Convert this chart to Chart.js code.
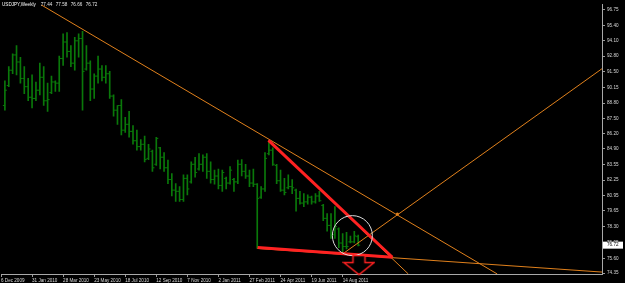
<!DOCTYPE html>
<html>
<head>
<meta charset="utf-8">
<title>USDJPY Weekly</title>
<style>
  html, body { margin: 0; padding: 0; background: #000; }
  #chart { display: block; }
</style>
<script src="https://cdn.jsdelivr.net/npm/chart.js@4.4.1/dist/chart.umd.min.js"></script>
</head>
<body>
<canvas id="chart" width="625" height="283"></canvas>
<script>
// weekly OHLC, first entry is the week of 13 Dec 2009 (week 1 on the time axis)
var firstWeek = 1;
var opens = [88.6, 90.3, 91.6, 92.9, 92.3, 90.9, 90.2, 89.3, 89.2, 89.9,
  91.0, 89.0, 89.7, 90.6, 90.5, 92.6, 94.0, 93.2, 92.2, 94.1,
  94.3, 91.7, 92.2, 90.0, 91.1, 91.7, 91.0, 91.3, 89.4, 88.2,
  88.6, 86.5, 87.0, 86.4, 85.6, 85.1, 85.3, 84.1, 84.7, 83.6,
  85.0, 84.2, 83.3, 82.3, 81.4, 81.3, 80.6, 82.4, 82.1, 83.6,
  83.2, 83.6, 84.2, 83.0, 82.3, 82.6, 81.8, 82.4, 82.0, 82.3,
  82.1, 83.6, 83.0, 82.6, 82.0, 81.9, 80.8, 81.5, 84.5, 84.8,
  83.5, 82.2, 81.4, 81.6, 81.7, 81.4, 80.7, 80.3, 80.4, 80.8,
  80.4, 80.9, 80.1, 79.0, 78.4, 77.6, 78.1, 76.9, 76.6, 77.0,
  77.0, 77.44];
var highs = [90.7, 91.9, 93.0, 93.7, 92.7, 91.9, 90.9, 91.2, 90.6, 92.2,
  91.9, 90.5, 91.1, 90.7, 92.8, 94.7, 94.8, 93.7, 94.4, 94.7,
  94.9, 93.7, 92.4, 91.3, 92.8, 92.0, 92.0, 91.5, 89.5, 88.6,
  89.1, 87.6, 88.1, 86.9, 86.5, 85.7, 86.0, 85.3, 84.8, 85.9,
  85.05, 84.6, 83.96, 82.8, 81.96, 81.7, 82.7, 82.7, 83.8, 84.2,
  84.5, 84.4, 84.5, 83.8, 83.1, 83.2, 83.1, 82.5, 83.4, 82.4,
  83.96, 84.0, 83.6, 83.1, 83.2, 81.96, 81.7, 84.6, 85.5, 85.0,
  83.6, 83.1, 82.4, 82.7, 82.3, 81.5, 81.3, 81.1, 81.0, 80.9,
  81.1, 81.3, 80.2, 79.4, 79.4, 80.0, 78.2, 77.7, 77.8, 77.5,
  77.9, 77.58];
var lows = [88.2, 90.2, 91.3, 91.2, 90.5, 89.6, 89.0, 88.4, 89.0, 89.5,
  88.6, 88.1, 89.6, 89.8, 89.8, 92.0, 92.7, 91.9, 91.6, 92.7,
  88.2, 91.6, 89.0, 89.2, 90.5, 90.7, 90.5, 89.2, 87.7, 87.0,
  86.1, 86.3, 85.9, 85.3, 84.8, 84.8, 83.8, 84.0, 83.0, 83.5,
  83.2, 83.0, 81.96, 80.9, 80.45, 80.45, 80.45, 81.0, 82.0, 82.5,
  83.1, 83.0, 82.4, 82.0, 81.9, 81.5, 81.3, 81.5, 81.9, 81.3,
  81.96, 82.6, 82.4, 81.7, 81.7, 76.44, 80.7, 81.3, 84.4, 83.5,
  81.96, 81.3, 81.0, 81.5, 81.1, 79.6, 80.2, 80.0, 80.2, 80.2,
  80.3, 80.45, 78.8, 77.9, 77.3, 77.3, 76.5, 76.1, 76.4, 76.9,
  76.9, 76.66];
var closes = [89.9, 91.6, 92.9, 92.3, 90.9, 90.2, 89.3, 89.2, 89.9, 91.0,
  89.0, 89.1, 90.6, 90.5, 92.6, 94.0, 93.2, 92.2, 94.1, 94.3,
  91.5, 92.2, 90.0, 91.1, 91.7, 91.0, 91.3, 89.4, 88.2, 88.6,
  86.5, 87.0, 86.4, 85.6, 85.1, 85.3, 84.0, 84.9, 83.3, 85.8,
  84.2, 83.3, 82.3, 81.4, 81.3, 80.6, 82.4, 81.5, 83.6, 82.9,
  83.6, 84.2, 83.0, 82.3, 82.6, 81.8, 82.9, 82.0, 83.1, 82.1,
  83.6, 83.0, 82.6, 82.0, 81.9, 80.7, 81.5, 84.1, 84.8, 83.6,
  82.2, 81.4, 81.2, 81.7, 81.6, 80.7, 80.3, 80.4, 80.8, 80.4,
  80.9, 80.5, 79.0, 78.4, 77.6, 78.3, 76.9, 76.6, 76.6, 77.0,
  77.5, 76.72];

var dateLabels = ['6 Dec 2009', '31 Jan 2010', '28 Mar 2010', '23 May 2010', '18 Jul 2010',
  '12 Sep 2010', '7 Nov 2010', '2 Jan 2011', '27 Feb 2011', '24 Apr 2011', '19 Jun 2011', '14 Aug 2011'];
var labelWeeks = [0, 8, 16, 24, 32, 40, 48, 56, 64, 72, 80, 88];
var priceTicks = [96.75, 95.40, 94.10, 92.80, 91.50, 90.15, 88.80, 87.50, 86.20, 84.90,
  83.55, 82.25, 80.95, 79.65, 78.30, 76.95, 75.60, 74.35];
var header = ['77.44', '77.58', '76.66', '76.72'];
var lastPrice = 76.72;

// objects drawn on the chart, [week, price] pairs
var orangeDown = [[10.3, 97.17], [127.8, 74.27]];
var orangeUp = [[88.2, 76.02], [154.8, 91.73]];
var orangeSteep = [[68.9, 85.63], [104.9, 74.27]];
var orangeFlat = [[66.1, 76.44], [154.8, 74.43]];
var redUpper = [[68.9, 85.63], [100.8, 75.69]];
var redLower = [[66.1, 76.52], [100.8, 75.69]];
var crossing = [[102.1, 79.36]];
var ring = [[90.5, 77.53]];
var arrowAt = [[92.2, 74.98]];

var barGreen = '#0a780a';
var orange = '#e0801c';
var red = '#ff2222';

function pts(list) {
  return list.map(function (p) { return { x: p[0], y: p[1] }; });
}

// outlined down arrow used as a point style
var arrowImg = document.createElement('canvas');
arrowImg.width = 33;
arrowImg.height = 21;
var a = arrowImg.getContext('2d');
a.beginPath();
a.moveTo(10.5, 0.5); a.lineTo(22.5, 0.5); a.lineTo(22.5, 7.5); a.lineTo(31.5, 7.5);
a.lineTo(16.5, 19.5); a.lineTo(1.5, 7.5); a.lineTo(10.5, 7.5); a.closePath();
a.fillStyle = '#000';
a.fill();
a.strokeStyle = red;
a.lineWidth = 1.5;
a.stroke();

function trend(list, color, width, order) {
  return {
    type: 'line', data: pts(list), borderColor: color, borderWidth: width,
    pointRadius: 0, tension: 0, fill: false, order: order
  };
}

var overlay = {
  id: 'overlay',
  afterDraw: function (chart) {
    var ctx = chart.ctx, y = chart.scales.y;
    ctx.save();
    ctx.font = '4.6px "Liberation Sans"';
    ctx.textBaseline = 'middle';
    ctx.fillStyle = '#ffffff';
    ctx.fillText('USDJPY,Weekly', 2, 5);
    var x0 = 2 + ctx.measureText('USDJPY,Weekly').width + 5;
    ctx.fillStyle = '#e6e6e6';
    header.forEach(function (t, i) { ctx.fillText(t, x0 + i * 15, 5); });
    var py = y.getPixelForValue(lastPrice);
    ctx.fillStyle = '#ffffff';
    ctx.fillRect(y.left + 1, py - 3.5, 20, 7);
    ctx.fillStyle = '#000000';
    ctx.fillText(lastPrice.toFixed(2), y.left + 5, py);
    ctx.restore();
  }
};

var ctx = document.getElementById('chart').getContext('2d');
var chart = new Chart(ctx, {
  type: 'bar',
  data: {
    datasets: [
      {
        type: 'scatter', data: pts(arrowAt), pointStyle: arrowImg, pointRadius: 10,
        clip: false, order: 1
      },
      {
        type: 'scatter', data: pts(ring), pointStyle: 'circle', pointRadius: 20,
        borderColor: '#dcdcdc', borderWidth: 1, backgroundColor: 'rgba(0,0,0,0)', order: 2
      },
      trend(redUpper, red, 3, 3),
      trend(redLower, red, 3, 3),
      {
        type: 'scatter', data: pts(crossing), pointStyle: 'circle', pointRadius: 1.5,
        borderWidth: 0, backgroundColor: orange, order: 4
      },
      trend(orangeDown, orange, 1, 5),
      trend(orangeUp, orange, 1, 5),
      trend(orangeSteep, orange, 1, 5),
      trend(orangeFlat, orange, 1, 5),
      {
        type: 'scatter', order: 8, pointStyle: 'line', pointRadius: 1, borderWidth: 1,
        borderColor: barGreen,
        data: opens.map(function (v, i) { return { x: firstWeek + i - 0.26, y: v }; })
      },
      {
        type: 'scatter', order: 8, pointStyle: 'line', pointRadius: 1, borderWidth: 1,
        borderColor: barGreen,
        data: closes.map(function (v, i) { return { x: firstWeek + i + 0.26, y: v }; })
      },
      {
        type: 'bar', order: 9, backgroundColor: barGreen, borderWidth: 0,
        barThickness: 1, grouped: false,
        data: highs.map(function (h, i) { return { x: firstWeek + i, y: [lows[i], h] }; })
      }
    ]
  },
  options: {
    responsive: false,
    animation: false,
    layout: { padding: 0, autoPadding: false },
    plugins: { legend: { display: false }, tooltip: { enabled: false }, title: { display: false } },
    scales: {
      x: {
        type: 'linear', min: 0, max: 154.8, offset: false,
        grid: { drawOnChartArea: false, offset: false, tickLength: 3, color: '#9a9a9a' },
        border: { display: true, color: '#a8a8a8', width: 1 },
        ticks: {
          autoSkip: false, maxRotation: 0, minRotation: 0, align: 'start', padding: 1,
          color: '#d8d8d8', font: { family: 'Liberation Sans', size: 4.6 },
          callback: function (v) {
            var k = labelWeeks.indexOf(v);
            return k >= 0 ? dateLabels[k] : '';
          }
        },
        afterBuildTicks: function (s) {
          s.ticks = labelWeeks.map(function (w) { return { value: w }; });
        },
        afterFit: function (s) { s.height = 9; }
      },
      y: {
        type: 'linear', position: 'right', min: 74.266, max: 97.168,
        grid: { drawOnChartArea: false, tickLength: 3, color: '#9a9a9a' },
        border: { display: true, color: '#a8a8a8', width: 1 },
        ticks: {
          padding: 2, color: '#d8d8d8', font: { family: 'Liberation Sans', size: 4.6 },
          callback: function (v) { return v.toFixed(2); }
        },
        afterBuildTicks: function (s) {
          s.ticks = priceTicks.map(function (v) { return { value: v }; });
        },
        afterFit: function (s) { s.width = 23; }
      }
    }
  },
  plugins: [overlay]
});
</script>
</body>
</html>
